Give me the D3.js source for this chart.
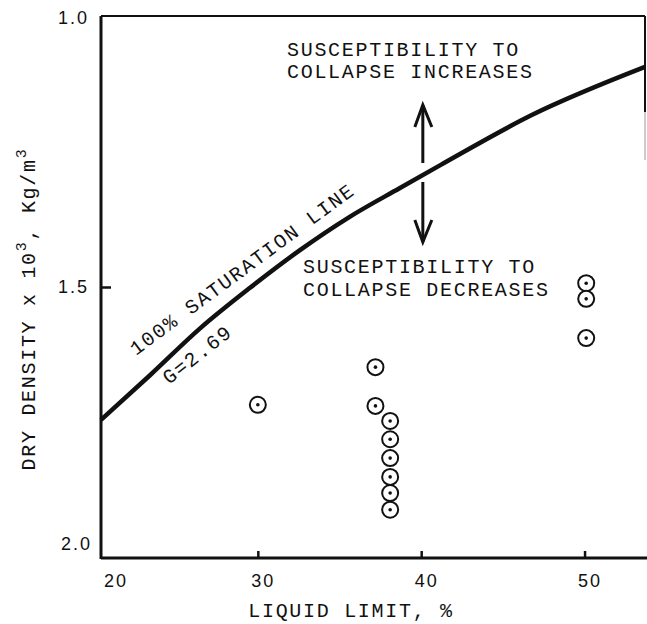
<!DOCTYPE html>
<html>
<head>
<meta charset="utf-8">
<script src="https://cdn.jsdelivr.net/npm/d3@7"></script>
<style>
  body { margin: 0; background: #fff; }
  text { fill: #111; }
  .mono { font-family: "Liberation Mono", monospace; font-size: 20px; letter-spacing: 1.7px; }
  .tick text { font-family: "Liberation Sans", Arial, sans-serif; font-size: 18px; letter-spacing: 2px; }
</style>
</head>
<body>
<svg id="chart" width="647" height="624"></svg>
<script>
// 100% saturation line (G = 2.69)
const curveLiquidLimit = [20.4, 23.4, 26.5, 29.5, 32.6, 35.6, 38.7, 41.2, 46.8, 53.7];
const curveDensity     = [1.747, 1.664, 1.576, 1.502, 1.431, 1.370, 1.316, 1.273, 1.180, 1.091];

// test results
const sampleLiquidLimit = [30, 37.2, 37.2, 38.1, 38.1, 38.1, 38.1, 38.1, 38.1, 50.1, 50.1, 50.1];
const sampleDensity     = [1.719, 1.649, 1.721, 1.749, 1.783, 1.818, 1.853, 1.883, 1.914, 1.493, 1.522, 1.595];

const xTicks = [20, 30, 40, 50];
const yTicks = [1.0, 1.5, 2.0];

let svg = d3.select("#chart");

let x = d3.scaleLinear().domain([20.4, 53.7]).range([101, 645]);
let y = d3.scaleLinear().domain([1.0, 2.0]).range([18, 556]);

// frame
svg.append("line")
    .attr("x1", x(20.4)).attr("x2", x(53.7))
    .attr("y1", 16).attr("y2", 16)
    .attr("stroke", "#111").attr("stroke-width", 2);
svg.append("line")
    .attr("x1", x(53.7)).attr("x2", x(53.7))
    .attr("y1", 16).attr("y2", 112)
    .attr("stroke", "#111").attr("stroke-width", 2);
svg.append("line")
    .attr("x1", x(53.7)).attr("x2", x(53.7))
    .attr("y1", 112).attr("y2", 160)
    .attr("stroke", "#bbb").attr("stroke-width", 1.5);

// x axis
let xAxis = svg.append("g")
    .attr("transform", "translate(0,558)")
    .call(d3.axisBottom(x).tickValues(xTicks).tickSize(-7).tickPadding(13).tickFormat(d3.format("d")));
xAxis.select(".domain").attr("stroke", "#111").attr("stroke-width", 3)
    .attr("d", "M" + x(20.4) + ",0H647");
xAxis.selectAll(".tick line").attr("stroke", "#111").attr("stroke-width", 2.5);
xAxis.selectAll(".tick text").attr("dx", 5).attr("dy", "0.9em");
xAxis.selectAll(".tick").filter(d => d === 20).each(function() {
    d3.select(this).attr("transform", "translate(" + (x(20.4) + 10) + ",0)");
    d3.select(this).select("line").remove();
});

// y axis
let yAxis = svg.append("g")
    .attr("transform", "translate(101,0)")
    .call(d3.axisLeft(y).tickValues(yTicks).tickSize(-10).tickPadding(12).tickFormat(d3.format(".1f")));
yAxis.select(".domain").attr("stroke", "#111").attr("stroke-width", 3)
    .attr("d", "M0,16V559");
yAxis.selectAll(".tick line").attr("stroke", "#111").attr("stroke-width", 2.5)
    .filter(d => d !== 1.5).remove();
yAxis.selectAll(".tick text").filter(d => d === 2.0).attr("dy", "-0.35em").attr("dx", 3);

// saturation line
let line = d3.line()
    .x(d => x(d[0]))
    .y(d => y(d[1]))
    .curve(d3.curveMonotoneX);

svg.append("path")
    .datum(curveLiquidLimit.map((v, i) => [v, curveDensity[i]]))
    .attr("d", line)
    .attr("fill", "none")
    .attr("stroke", "#111")
    .attr("stroke-width", 4.5);

svg.append("text")
    .attr("class", "mono")
    .attr("transform", "translate(136,356) rotate(-36.5)")
    .text("100% SATURATION LINE");

svg.append("text")
    .attr("class", "mono")
    .attr("transform", "translate(169,385) rotate(-38)")
    .text("G=2.69");

// samples
let pts = svg.selectAll(".pt")
    .data(sampleLiquidLimit.map((v, i) => [v, sampleDensity[i]]))
    .enter().append("g")
    .attr("class", "pt")
    .attr("transform", d => "translate(" + x(d[0]) + "," + y(d[1]) + ")");
pts.append("circle").attr("r", 8).attr("fill", "#fff").attr("stroke", "#111").attr("stroke-width", 2);
pts.append("circle").attr("r", 1.8).attr("fill", "#111");

// arrows
let ax = x(40.1);
let arrows = [[1.2695, 1.1617], [1.3048, 1.4164]];
arrows.forEach(a => {
    let y0 = y(a[0]), y1 = y(a[1]);
    let s = y1 < y0 ? 1 : -1;
    svg.append("line")
        .attr("x1", ax).attr("x2", ax).attr("y1", y0).attr("y2", y1)
        .attr("stroke", "#111").attr("stroke-width", 3);
    svg.append("path")
        .attr("d", "M" + (ax - 8) + "," + (y1 + s * 22) + "L" + ax + "," + y1 + "L" + (ax + 9) + "," + (y1 + s * 22))
        .attr("fill", "none").attr("stroke", "#111").attr("stroke-width", 3);
});

// notes
let notes = [
    ["SUSCEPTIBILITY TO", 287, 56],
    ["COLLAPSE INCREASES", 287, 78],
    ["SUSCEPTIBILITY TO", 303, 273],
    ["COLLAPSE DECREASES", 303, 296]
];
svg.selectAll(".note")
    .data(notes)
    .enter().append("text")
    .attr("class", "mono note")
    .attr("x", d => d[1])
    .attr("y", d => d[2])
    .text(d => d[0]);

// axis titles
svg.append("text")
    .attr("class", "mono")
    .attr("x", 351).attr("y", 617)
    .attr("text-anchor", "middle")
    .text("LIQUID LIMIT, %");

let yt = svg.append("text")
    .attr("class", "mono")
    .attr("transform", "translate(35,309) rotate(-90)")
    .attr("text-anchor", "middle");
yt.append("tspan").text("DRY DENSITY x 10");
yt.append("tspan").attr("dy", -9).attr("font-size", 15).text("3");
yt.append("tspan").attr("dy", 9).text(", Kg/m");
yt.append("tspan").attr("dy", -9).attr("font-size", 15).text("3");
</script>
</body>
</html>
